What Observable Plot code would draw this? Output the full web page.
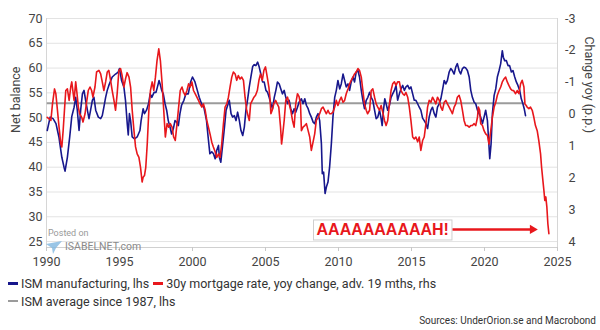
<!DOCTYPE html>
<html><head><meta charset="utf-8">
<script src="https://cdn.jsdelivr.net/npm/d3@7"></script>
<script src="https://cdn.jsdelivr.net/npm/@observablehq/plot@0.6"></script>
<style>
html,body{margin:0;padding:0;background:#fff;}
#wrap{position:relative;width:600px;height:330px;overflow:hidden;font-family:Roboto,"Liberation Sans",Arial,sans-serif;}
#chart svg{display:block}
#legend{position:absolute;left:8px;top:275px;font-size:12.5px;color:#333;}
#legend .row{height:17.5px;line-height:17.5px;white-space:nowrap}
#legend .sw{display:inline-block;width:10px;height:2.5px;vertical-align:middle;margin-right:3px;position:relative;top:-1px}
#legend .gap{margin-left:4px}
#source{position:absolute;right:4px;top:315px;font-size:10px;color:#333;}
#wm1{position:absolute;left:48px;top:228px;font-size:9px;color:#999;}
#wm2{position:absolute;left:65px;top:240px;font-size:10.5px;color:#8a8a8a;}
#wmicon{position:absolute;left:44px;top:238px;}
</style></head>
<body>
<div id="wrap">
  <div id="chart"></div>
  <svg id="wmicon" width="20" height="18"><path d="M2 6 L18 3 L12 10 L9 16 L8 10 Z" fill="#7fb6e0" opacity="0.8"/></svg>
  <div id="wm1">Posted on</div>
  <div id="wm2">ISABELNET.com</div>
  <div id="legend"></div>
  <div id="source"></div>
</div>
<script>
// ---- data ----
const ismDate = [1990.05,1990.25,1990.45,1990.65,1990.85,1991.05,1991.2,1991.27,1991.43,1991.59,1991.73,1991.89,1992.0,1992.11,1992.23,1992.34,1992.46,1992.57,1992.68,1992.8,1992.91,1993.02,1993.14,1993.25,1993.37,1993.55,1993.71,1993.82,1993.93,1994.05,1994.16,1994.27,1994.5,1994.73,1994.91,1995.0,1995.14,1995.3,1995.41,1995.53,1995.6,1995.68,1995.76,1995.87,1996.03,1996.21,1996.4,1996.48,1996.62,1996.71,1996.85,1996.99,1997.1,1997.21,1997.37,1997.5,1997.6,1997.71,1997.78,1997.89,1998.0,1998.12,1998.23,1998.34,1998.46,1998.57,1998.69,1998.8,1998.91,1999.03,1999.14,1999.25,1999.41,1999.55,1999.71,1999.87,2000.0,2000.17,2000.33,2000.46,2000.62,2000.78,2000.96,2001.07,2001.19,2001.32,2001.44,2001.55,2001.66,2001.78,2001.84,2001.94,2002.05,2002.19,2002.3,2002.41,2002.52,2002.64,2002.75,2002.87,2002.98,2003.09,2003.21,2003.32,2003.44,2003.55,2003.66,2003.78,2003.89,2004.0,2004.12,2004.23,2004.34,2004.46,2004.57,2004.68,2004.8,2004.91,2005.03,2005.14,2005.25,2005.37,2005.48,2005.6,2005.71,2005.82,2005.94,2006.05,2006.16,2006.28,2006.39,2006.51,2006.62,2006.73,2006.85,2006.96,2007.07,2007.19,2007.3,2007.46,2007.57,2007.69,2007.8,2007.92,2008.03,2008.14,2008.26,2008.37,2008.48,2008.6,2008.71,2008.83,2008.89,2008.98,2009.08,2009.17,2009.28,2009.39,2009.51,2009.62,2009.74,2009.85,2009.96,2010.08,2010.19,2010.31,2010.42,2010.53,2010.65,2010.76,2010.87,2010.99,2011.1,2011.21,2011.33,2011.44,2011.56,2011.67,2011.78,2011.9,2012.01,2012.13,2012.24,2012.35,2012.47,2012.58,2012.69,2012.81,2012.92,2012.99,2013.08,2013.17,2013.26,2013.37,2013.49,2013.6,2013.71,2013.83,2013.94,2014.05,2014.17,2014.28,2014.4,2014.51,2014.62,2014.74,2014.85,2014.96,2015.08,2015.19,2015.3,2015.42,2015.53,2015.64,2015.76,2015.87,2015.99,2016.1,2016.21,2016.33,2016.44,2016.56,2016.67,2016.78,2016.9,2017.01,2017.12,2017.24,2017.35,2017.46,2017.58,2017.69,2017.8,2017.92,2018.03,2018.14,2018.26,2018.37,2018.49,2018.6,2018.72,2018.83,2018.95,2019.06,2019.17,2019.29,2019.4,2019.52,2019.63,2019.74,2019.86,2019.97,2020.08,2020.2,2020.27,2020.36,2020.45,2020.54,2020.66,2020.77,2020.88,2021.0,2021.11,2021.22,2021.29,2021.38,2021.5,2021.61,2021.72,2021.84,2021.95,2022.07,2022.18,2022.29,2022.41,2022.52,2022.63,2022.72,2022.81];
const ismValue = [47.4,50.1,49.8,48.8,46.1,42.0,40.0,39.2,42.0,46.1,50.2,52.1,54.1,51.5,47.4,51.5,54.8,55.5,53.5,51.5,49.8,51.5,53.5,54.1,51.5,50.1,49.8,50.4,52.1,54.1,55.5,56.5,58.2,58.8,59.2,59.9,57.5,56.2,53.5,48.8,46.5,50.8,49.4,46.1,45.7,46.1,47.4,49.4,51.8,50.8,51.5,52.8,54.8,54.1,55.1,55.1,56.2,57.5,56.8,55.5,54.8,52.8,51.5,49.4,48.1,46.7,47.8,49.4,49.1,48.4,50.8,52.5,53.5,54.8,54.8,57.2,58.2,57.2,55.5,54.1,52.8,52.1,49.4,46.1,42.7,43.1,42.7,41.7,43.4,44.4,42.0,41.0,44.1,48.1,51.5,52.5,53.5,50.8,50.1,50.4,49.4,51.1,49.4,47.4,46.4,48.1,51.5,53.8,56.2,58.2,60.3,60.7,60.5,61.2,60.2,58.8,57.2,57.2,55.5,55.1,54.1,52.8,51.8,54.1,55.5,57.2,56.8,55.8,54.8,55.5,54.1,52.8,53.5,51.8,50.8,51.8,51.1,52.1,53.1,53.8,52.8,53.8,52.5,51.8,50.8,50.1,49.1,48.8,50.1,50.8,49.4,44.7,38.7,39.0,34.7,36.0,37.0,40.0,44.7,50.1,54.1,55.5,57.5,55.8,56.8,58.8,57.5,56.2,56.8,55.5,57.2,58.2,57.2,59.2,59.5,58.2,55.5,53.5,51.8,53.5,54.1,55.1,54.1,53.5,51.5,49.8,50.1,51.5,49.8,48.4,51.5,53.8,52.8,51.5,52.5,54.1,54.8,55.5,56.5,53.5,54.8,55.8,56.5,55.5,56.2,56.5,55.8,56.2,54.8,53.5,53.5,52.8,52.1,51.5,49.9,49.4,48.8,47.8,50.1,51.5,52.1,50.8,50.1,52.1,52.8,53.8,55.5,57.5,56.8,57.5,59.2,59.9,59.5,58.8,60.2,60.9,59.5,58.8,59.9,60.2,60.0,59.5,58.2,55.5,54.1,53.1,52.8,51.5,50.8,50.1,48.8,50.1,51.5,49.4,46.1,41.7,44.7,50.8,54.5,55.8,58.2,59.5,60.9,63.5,62.2,61.5,61.5,60.5,60.5,59.2,59.5,58.2,57.2,56.5,55.5,53.8,52.8,51.8,50.4];

const mortDate = [1990.05,1990.3,1990.41,1990.55,1990.64,1990.75,1990.86,1990.98,1991.05,1991.14,1991.23,1991.32,1991.43,1991.55,1991.66,1991.73,1991.82,1991.89,1992.0,1992.09,1992.18,1992.27,1992.41,1992.5,1992.64,1992.73,1992.86,1992.98,1993.09,1993.18,1993.32,1993.43,1993.59,1993.71,1993.82,1993.93,1994.05,1994.16,1994.27,1994.39,1994.5,1994.62,1994.73,1994.84,1994.96,1995.07,1995.18,1995.3,1995.41,1995.52,1995.65,1995.76,1995.87,1995.99,1996.1,1996.21,1996.33,1996.44,1996.55,1996.62,1996.71,1996.8,1996.9,1997.01,1997.12,1997.24,1997.35,1997.46,1997.57,1997.69,1997.8,1997.92,1998.03,1998.14,1998.26,1998.37,1998.48,1998.6,1998.71,1998.82,1998.94,1999.05,1999.16,1999.28,1999.39,1999.5,1999.62,1999.73,1999.84,1999.96,2000.07,2000.18,2000.3,2000.41,2000.52,2000.64,2000.75,2000.87,2000.98,2001.09,2001.2,2001.32,2001.43,2001.55,2001.66,2001.78,2001.89,2002.0,2002.12,2002.23,2002.35,2002.46,2002.57,2002.69,2002.8,2002.92,2003.03,2003.14,2003.26,2003.37,2003.49,2003.6,2003.71,2003.83,2003.89,2003.98,2004.1,2004.21,2004.32,2004.44,2004.55,2004.66,2004.78,2004.89,2005.0,2005.12,2005.23,2005.3,2005.37,2005.46,2005.57,2005.69,2005.8,2005.91,2006.03,2006.1,2006.16,2006.28,2006.39,2006.51,2006.62,2006.73,2006.85,2006.96,2007.07,2007.19,2007.3,2007.4,2007.46,2007.57,2007.69,2007.8,2007.92,2008.03,2008.14,2008.26,2008.37,2008.48,2008.6,2008.71,2008.83,2008.94,2009.05,2009.17,2009.28,2009.39,2009.5,2009.62,2009.74,2009.85,2009.96,2010.08,2010.19,2010.31,2010.42,2010.53,2010.65,2010.76,2010.87,2010.99,2011.1,2011.21,2011.33,2011.44,2011.56,2011.67,2011.78,2011.9,2011.99,2012.13,2012.24,2012.35,2012.47,2012.58,2012.69,2012.81,2012.92,2013.03,2013.15,2013.26,2013.37,2013.49,2013.6,2013.71,2013.83,2013.94,2014.05,2014.17,2014.28,2014.4,2014.51,2014.62,2014.74,2014.85,2014.96,2015.08,2015.19,2015.3,2015.42,2015.53,2015.64,2015.76,2015.87,2015.99,2016.1,2016.21,2016.33,2016.44,2016.56,2016.67,2016.78,2016.9,2017.01,2017.12,2017.24,2017.35,2017.46,2017.58,2017.69,2017.8,2017.92,2018.03,2018.14,2018.26,2018.37,2018.49,2018.6,2018.71,2018.83,2018.95,2019.06,2019.17,2019.29,2019.4,2019.52,2019.58,2019.67,2019.74,2019.86,2019.97,2020.08,2020.2,2020.31,2020.43,2020.54,2020.66,2020.77,2020.88,2021.0,2021.11,2021.22,2021.33,2021.45,2021.56,2021.67,2021.79,2021.9,2021.99,2022.13,2022.24,2022.36,2022.47,2022.58,2022.7,2022.77,2022.86,2022.92,2023.04,2023.15,2023.27,2023.38,2023.49,2023.61,2023.72,2023.84,2023.91,2024.0,2024.07,2024.13,2024.2,2024.27,2024.34,2024.41];
const mortChange = [0.10,0.20,-0.32,-0.79,-0.64,-0.12,0.41,0.94,1.03,0.52,-0.12,-0.74,-0.79,-0.43,-0.85,-1.01,-0.68,-0.43,-1.01,-0.64,-0.22,-0.01,0.10,0.25,-0.01,-0.32,-0.74,-0.85,-0.74,-0.53,-0.85,-1.32,-1.37,-1.26,-1.01,-0.74,-1.01,-1.32,-1.37,-1.06,-0.74,-0.43,-0.12,-0.64,-1.37,-1.43,-1.21,-0.85,-1.10,-1.30,-1.16,-0.85,-0.12,0.52,1.03,1.25,1.36,1.67,2.13,1.98,1.93,1.67,0.94,-0.12,-0.74,-1.01,-0.74,-1.16,-1.68,-2.05,-1.68,-0.95,-0.12,0.72,0.30,0.41,0.30,0.41,0.72,0.83,0.30,-0.22,-0.74,-0.85,-0.68,-0.59,-0.74,-0.95,-0.85,-1.01,-0.74,-0.64,-0.53,-0.43,-0.32,-0.22,-0.32,-0.12,0.20,0.41,0.62,0.88,1.03,1.18,1.36,1.25,1.36,0.94,0.30,-0.22,-0.32,-0.53,-0.85,-1.16,-1.32,-1.26,-1.06,-1.21,-1.10,-1.16,-1.06,-0.53,-0.12,0.10,0.20,-0.32,-0.43,-0.53,-0.59,-0.74,-1.06,-1.26,-1.06,-1.37,-1.48,-1.16,-0.85,-0.53,-0.01,-0.12,-0.32,-0.43,-0.32,-0.22,0.41,0.94,0.72,0.20,-0.43,-0.53,-0.32,-0.12,0.20,0.41,-0.32,-0.64,-0.55,-0.30,0.52,0.41,0.36,0.30,0.52,0.72,1.14,0.87,0.62,0.20,0.10,-0.01,-0.17,-0.22,-0.12,-0.01,-0.12,-0.01,-0.01,-0.06,-0.22,-0.43,-0.27,-0.43,-0.53,-0.37,-0.43,-0.64,-0.79,-0.95,-1.06,-1.16,-1.26,-1.32,-1.43,-1.37,-1.16,-0.74,-0.32,-0.12,-0.01,-0.12,-0.74,-0.79,-0.53,-0.32,-0.22,-0.12,-0.27,-0.06,0.20,0.36,0.20,-0.32,-0.74,-0.95,-1.01,-0.90,-1.01,-1.01,-0.74,-0.64,-0.59,-0.68,-0.53,-0.22,0.20,0.72,0.78,0.72,0.87,0.72,1.14,0.83,0.72,0.30,-0.22,-0.43,-0.37,-0.53,-0.43,-0.32,-0.53,-0.43,-0.22,-0.12,-0.37,-0.43,-0.32,-0.22,-0.12,-0.01,-0.22,-0.32,-0.53,-0.59,-0.43,-0.12,0.20,0.36,0.36,0.41,0.36,0.36,0.30,0.36,0.10,-0.22,-0.12,0.30,0.36,0.52,0.62,0.67,0.94,0.52,0.10,-0.22,-0.37,-0.59,-0.74,-0.85,-1.01,-1.10,-1.16,-1.01,-0.90,-0.79,-0.74,-0.74,-0.64,-0.74,-0.64,-0.95,-1.06,-0.85,-0.32,-0.27,-0.22,-0.17,-0.22,-0.12,0.10,0.36,0.52,0.83,1.25,1.67,2.09,2.40,2.71,2.60,2.91,3.44,3.75];

const ismAverage = 52.9;
const xTicks = [1990, 1995, 2000, 2005, 2010, 2015, 2020, 2025];
const leftTicks = [25, 30, 35, 40, 45, 50, 55, 60, 65, 70];
const rightTicks = [-3, -2, -1, 0, 1, 2, 3, 4];
const seriesNames = ["ISM manufacturing, lhs", "30y mortgage rate, yoy change, adv. 19 mths, rhs", "ISM average since 1987, lhs"];
const axisTitles = ["Net balance", "Change yoy (p.p.)"];
const annotationText = ["AAAAAAAAAAH!"];
const sourceText = "Sources: UnderOrion.se and Macrobond";

// ---- styles ----
const navy = "#17178c", red = "#e8171c", gray = "#9b9b9b";

// right axis (inverted) mapped onto the left scale
const lTop = leftTicks[leftTicks.length - 1], lBot = leftTicks[0];
const rTop = rightTicks[0], rBot = rightTicks[rightTicks.length - 1];
const toLeft = r => lTop - (r - rTop) * (lTop - lBot) / (rBot - rTop);
const fromLeft = v => rTop + (lTop - v) * (rBot - rTop) / (lTop - lBot);

const ism = ismDate.map((d, i) => ({date: d, value: ismValue[i]}));
const mort = mortDate.map((d, i) => ({date: d, change: mortChange[i]}));
const xDomain = [xTicks[0], xTicks[xTicks.length - 1]];
const yMin = 23.8;

const chart = Plot.plot({
  width: 600, height: 270,
  marginTop: 18, marginBottom: 23, marginLeft: 46, marginRight: 43,
  x: {domain: xDomain},
  y: {domain: [yMin, lTop]},
  style: {fontFamily: "Roboto, 'Liberation Sans', sans-serif", fontSize: "12.5px", color: "#444", background: "white"},
  marks: [
    Plot.gridY({ticks: leftTicks, stroke: "#e3e3e3", strokeOpacity: 1}),
    Plot.ruleX(xDomain, {stroke: "#d6d6d6"}),
    Plot.ruleY([yMin], {stroke: "#d0d0d0"}),
    Plot.axisY({ticks: leftTicks, anchor: "left", tickSize: 0, tickPadding: 4, label: null, fill: "#444"}),
    Plot.axisY({ticks: rightTicks.map(toLeft), anchor: "right", tickSize: 0, tickPadding: 18, textAnchor: "end",
      tickFormat: v => String(Math.round(fromLeft(v))), label: null, fill: "#444"}),
    Plot.axisX({ticks: xTicks, tickSize: 4, tickPadding: 6, tickFormat: d => String(d), label: null, stroke: "#c8c8c8", fill: "#444"}),
    Plot.text([axisTitles[0]], {frameAnchor: "left", rotate: -90, dx: -31, fill: "#444", fontSize: 12.5}),
    Plot.text([axisTitles[1]], {frameAnchor: "right", rotate: 90, dx: 31, fill: "#444", fontSize: 12.5}),
    Plot.ruleY([ismAverage], {x1: ismDate[0], x2: ismDate[ismDate.length - 1], stroke: gray, strokeWidth: 2}),
    Plot.line(ism, {x: "date", y: "value", stroke: navy, strokeWidth: 1.6}),
    Plot.line(mort, {x: "date", y: d => toLeft(d.change), stroke: red, strokeWidth: 1.6}),
    Plot.text(annotationText, {x: 2013.03, y: 27.26, fill: red, fontWeight: "bold", fontSize: 16,
      fontFamily: "'Liberation Sans', Arial, sans-serif"}),
    Plot.link([0], {x1: 2017.81, x2: 2023.2, y1: 27.45, y2: 27.45, stroke: red, strokeWidth: 2.5}),
    Plot.dot([0], {x: 2023.29, y: 27.45, symbol: "triangle", rotate: 90, r: 3.4, fill: red, stroke: "none"})
  ]
});
document.getElementById("chart").appendChild(chart);

// white box with light border behind the annotation text
for (const t of chart.querySelectorAll("text")) {
  if (t.textContent === annotationText[0]) {
    const b = t.getBBox();
    const g = t.parentNode;
    const ctm = t.getAttribute("transform");
    const rect = document.createElementNS("http://www.w3.org/2000/svg", "rect");
    rect.setAttribute("x", b.x - 3); rect.setAttribute("y", b.y - 1.5);
    rect.setAttribute("width", b.width + 6); rect.setAttribute("height", b.height + 3);
    rect.setAttribute("fill", "white"); rect.setAttribute("stroke", "#cfcfcf");
    if (ctm) rect.setAttribute("transform", ctm);
    g.insertBefore(rect, t);
  }
}

// legend
const legend = document.getElementById("legend");
legend.innerHTML =
  `<div class="row"><span class="sw" style="background:${navy}"></span>${seriesNames[0]}<span class="sw gap" style="background:${red}"></span>${seriesNames[1]}</div>` +
  `<div class="row"><span class="sw" style="background:${gray}"></span>${seriesNames[2]}</div>`;
document.getElementById("source").textContent = sourceText;
</script>
</body></html>
